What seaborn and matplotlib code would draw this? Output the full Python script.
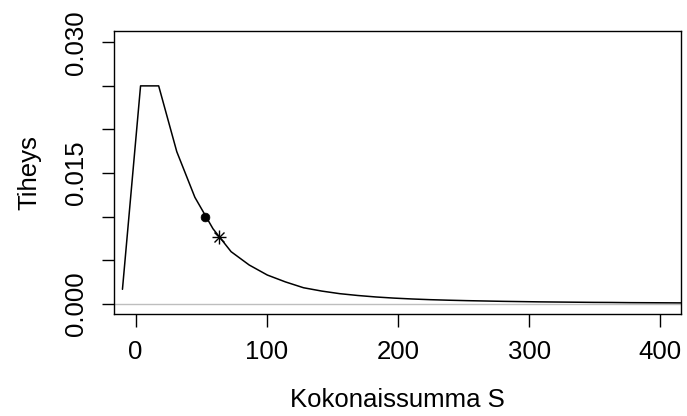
import matplotlib
matplotlib.use('Agg')
import matplotlib.pyplot as plt
import seaborn as sns
import pandas as pd

# density curve
s_values = [-10, 3.8, 17.6, 31.4, 45.2, 59, 72.8, 86.6, 100.4, 114.2, 128, 141.8,
            155.6, 169.4, 183.2, 197, 210.8, 224.6, 238.4, 252.2, 266, 279.8,
            293.6, 307.4, 321.2, 335, 348.8, 362.6, 376.4, 390.2, 404, 417.8]
density = [0.00165, 0.0250, 0.0250, 0.01745, 0.01221, 0.0086, 0.00597, 0.00444,
           0.00329, 0.0025, 0.00183, 0.00145, 0.00115, 0.00094, 0.00077, 0.00064,
           0.00054, 0.00046, 0.0004, 0.00035, 0.00031, 0.00027, 0.00024, 0.00021,
           0.00019, 0.00017, 0.00015, 0.00014, 0.00012, 0.00011, 0.0001, 0.00009]

# marked points
dot_s, dot_y = [53.0], [0.00992]
star_s, star_y = [63.4], [0.00769]

x_ticks = [0, 100, 200, 300, 400]
y_ticks = [0, 0.005, 0.010, 0.015, 0.020, 0.025, 0.030]
y_labels = ['0.000', '', '', '0.015', '', '', '0.030']

sns.set_theme(style="ticks")
plt.rcParams['font.family'] = ['Liberation Sans', 'DejaVu Sans']

fig = plt.figure(figsize=(6.87, 4.16), dpi=100)
ax = fig.add_axes([0.1664, 0.2459, 0.8245, 0.6796])

df = pd.DataFrame({'S': s_values, 'dens': density})
ax.axhline(0, color='#bebebe', lw=1.0, zorder=1)
sns.lineplot(data=df, x='S', y='dens', color='black', lw=1.1, ax=ax, zorder=2)
sns.scatterplot(x=dot_s, y=dot_y, color='black', s=40, edgecolor='black', ax=ax, zorder=3)
ax.plot(star_s, star_y, marker='+', color='black', ms=10, mew=1.0, ls='none', zorder=3)
ax.plot(star_s, star_y, marker='x', color='black', ms=7, mew=1.0, ls='none', zorder=3)

ax.set_xlim(-16.2, 415.5)
ax.set_ylim(-0.00115, 0.0313)
ax.set_xticks(x_ticks)
ax.set_yticks(y_ticks)
ax.set_yticklabels(y_labels, rotation=90, va='center')

for sp in ax.spines.values():
    sp.set_visible(True)
    sp.set_color('black')
    sp.set_linewidth(1.0)

ax.tick_params(axis='both', direction='out', length=9, width=1.0, color='black',
               labelsize=18.5, labelcolor='black')
ax.tick_params(axis='x', pad=10)
ax.tick_params(axis='y', pad=10)

ax.set_xlabel('Kokonaissumma S', fontsize=18.5, color='black', labelpad=17)
ax.set_ylabel('Tiheys', fontsize=18.5, color='black', labelpad=16)

fig.savefig('out.png', dpi=100)
